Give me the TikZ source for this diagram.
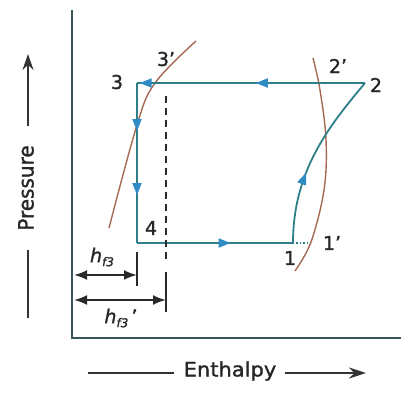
\documentclass[tikz,border=0pt]{standalone}
\usepackage{fontspec}
\setmainfont{DejaVu Sans}[FakeBold=1.3]
\newfontfamily\labfont{DejaVu Sans}[FakeBold=1.3]
\usetikzlibrary{arrows.meta,decorations.markings}
\definecolor{cyc}{HTML}{2E7F8A}
\definecolor{arr}{HTML}{2E8BC4}
\definecolor{brn}{HTML}{A66A52}
\definecolor{axc}{HTML}{35585D}
\definecolor{dimc}{HTML}{2A2A2A}
\begin{document}
\begin{tikzpicture}[x=1pt,y=-1pt,
  cycline/.style={draw=cyc,line width=1.8pt},
  flowtip/.style={postaction={decorate},decoration={markings,
     mark=at position #1 with {\arrow{Triangle[length=12pt,width=9pt,color=arr]}}}},
  flowtwo/.style 2 args={postaction={decorate},decoration={markings,
     mark=at position #1 with {\arrow{Triangle[length=12pt,width=9pt,color=arr]}},
     mark=at position #2 with {\arrow{Triangle[length=12pt,width=9pt,color=arr]}}}},
  satline/.style={draw=brn,line width=1.4pt},
  axisline/.style={draw=axc,line width=2.2pt},
  dimline/.style={draw=dimc,line width=2pt,{Latex[length=13pt,width=10pt]}-{Latex[length=13pt,width=10pt]}},
  tick/.style={draw=dimc,line width=1.8pt},
  lab/.style={font=\labfont\fontsize{19}{19}\selectfont,text=black!85,inner sep=0pt},
  axtitle/.style={font=\labfont\fontsize{20}{20}\selectfont,text=black!85,inner sep=0pt,xscale=1.05},
  axarrow/.style={draw=black!80,line width=2pt}
]
\useasboundingbox (0,0) rectangle (401,392);

% axes
\coordinate (ot) at (72,10);
\coordinate (o) at (72,338);
\coordinate (or) at (401,338);
\draw[axisline] (ot) -- (o) -- (or);

% state points
\coordinate (p3) at (137,83);
\coordinate (p3p) at (155,83);
\coordinate (p2) at (365,83);
\coordinate (p4) at (137,243);
\coordinate (p1) at (293,243);
\coordinate (p1p) at (310,243);

% saturation curves
\draw[satline] plot[smooth,tension=0.6] coordinates {(109,228) (137,125) (155,83) (196,41)};
\draw[satline] plot[smooth,tension=0.6] coordinates {(313,58) (320,90) (326,140) (324,190) (311,242) (295,271)};

% cycle
\draw[cycline,flowtip=0.52] (p2) -- (p3p);
\draw[cycline,flowtip=0.85] (p3p) -- (p3);
\draw[cycline,flowtwo={0.3}{0.7}] (p3) -- (p4);
\draw[cycline,flowtip=0.6] (p4) -- (p1);
\draw[cycline,flowtip=0.4] (p1) .. controls (293,170) and (330,125) .. (p2);
\draw[draw=cyc,line width=1.4pt,dotted] (p1) -- (p1p);

% dashed line from 3'
\coordinate (dt) at (166,96);
\coordinate (db) at (166,262);
\draw[draw=dimc,line width=1.8pt,dash pattern=on 7pt off 5pt] (dt) -- (db);

% extension ticks
\coordinate (t1a) at (137,252);
\coordinate (t1b) at (137,286);
\coordinate (t2a) at (166,272);
\coordinate (t2b) at (166,312);
\draw[tick] (t1a) -- (t1b);
\draw[tick] (t2a) -- (t2b);

% dimension arrows
\coordinate (d1l) at (74,275);
\coordinate (d1r) at (137,275);
\coordinate (d2l) at (74,300);
\coordinate (d2r) at (166,300);
\draw[dimline] (d1l) -- (d1r);
\draw[dimline] (d2l) -- (d2r);

% labels
\node[lab] (l3) at (117,82) {3};
\node[lab] (l3p) at (166,59) {3’};
\node[lab] (l2p) at (338,66) {2’};
\node[lab] (l2) at (376,85) {2};
\node[lab] (l4) at (151,228) {4};
\node[lab] (l1) at (290,258) {1};
\node[lab] (l1p) at (332,243) {1’};
\node[lab] (hf3) at (102,257) {\textit{h}\raisebox{-4pt}{\fontsize{12}{12}\selectfont\textit{f3}}};
\node[lab] (hf3p) at (121,318) {\textit{h}\raisebox{-4pt}{\fontsize{12}{12}\selectfont\textit{f3}}\,’};

% axis titles
\node[axtitle,rotate=90] (pr) at (26,188) {Pressure};
\coordinate (pra) at (28,126);
\coordinate (prb) at (28,54);
\coordinate (prc) at (28,250);
\coordinate (prd) at (28,318);
\draw[axarrow,-{Stealth[length=16pt,width=11pt]}] (pra) -- (prb);
\draw[axarrow] (prc) -- (prd);

\node[axtitle] (en) at (230,371) {Enthalpy};
\coordinate (ena) at (88,373);
\coordinate (enb) at (174,373);
\coordinate (enc) at (285,373);
\coordinate (end) at (366,373);
\draw[axarrow] (ena) -- (enb);
\draw[axarrow,-{Stealth[length=17pt,width=11pt]}] (enc) -- (end);
\end{tikzpicture}
\end{document}
